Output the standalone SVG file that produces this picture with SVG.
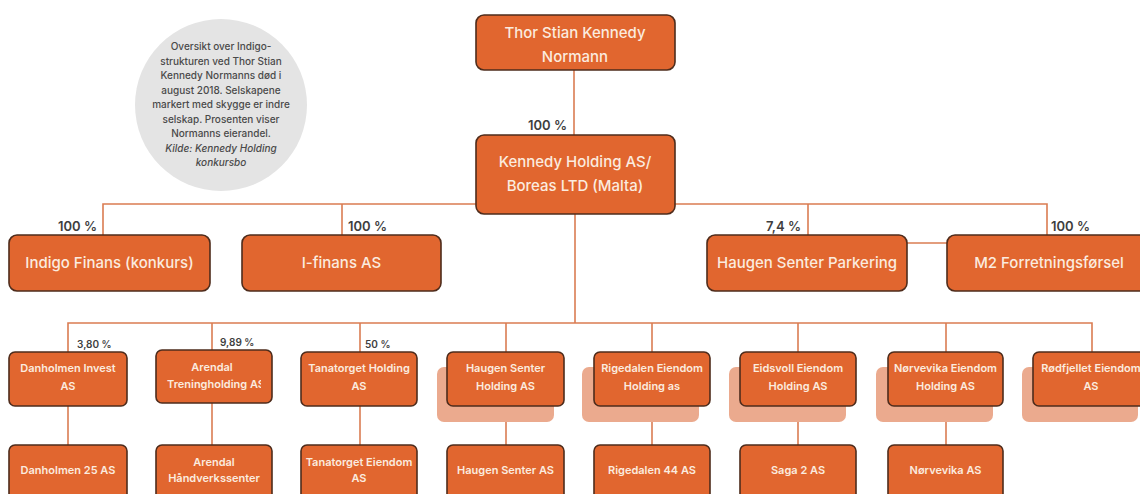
<svg xmlns="http://www.w3.org/2000/svg" width="1140" height="494" viewBox="0 0 1140 494">
<style>
.bx{fill:#E1662F;stroke:#4E2C1C;stroke-width:1.6}
.sh{fill:#EBAA8E}
.ln{stroke:#DA7C52;stroke-width:1.6;fill:none}
.t{font-family:Inter,"Liberation Sans",sans-serif;fill:#FBEBDF;text-anchor:middle}
.tl{font-size:15px;font-weight:500}
.ts{font-size:11px;font-weight:600}
.p{font-family:Inter,"Liberation Sans",sans-serif;fill:#3E3E3E;font-weight:600}
.pl{font-size:13px}
.ps{font-size:10px}
.c{font-family:Inter,"Liberation Sans",sans-serif;fill:#4A4A4A;font-size:10px;font-weight:500;text-anchor:middle}
</style>
<defs>
<clipPath id="clipAr"><rect x="156" y="350" width="105" height="53"/></clipPath>
</defs>
<rect width="1140" height="494" fill="#FFFFFF"/>

<g id="note">
<circle cx="221" cy="105" r="86" fill="#E4E4E4"/>
<text class="c" x="221" y="50">Oversikt over Indigo-</text>
<text class="c" x="221" y="64.5">strukturen ved Thor Stian</text>
<text class="c" x="221" y="79">Kennedy Normanns død i</text>
<text class="c" x="221" y="93.5">august 2018. Selskapene</text>
<text class="c" x="221" y="108">markert med skygge er indre</text>
<text class="c" x="221" y="122.5">selskap. Prosenten viser</text>
<text class="c" x="221" y="137">Normanns eierandel.</text>
<text class="c" x="221" y="151.5" font-style="italic">Kilde: Kennedy Holding</text>
<text class="c" x="221" y="166" font-style="italic">konkursbo</text>
</g>

<g id="connectors">
<line class="ln" x1="574" y1="70" x2="574" y2="135"/>
<polyline class="ln" points="103,235 103,204 1047,204 1047,235"/>
<line class="ln" x1="342" y1="204" x2="342" y2="235"/>
<line class="ln" x1="808" y1="204" x2="808" y2="235"/>
<line class="ln" x1="907" y1="243" x2="947" y2="243"/>
<line class="ln" x1="575" y1="214" x2="575" y2="323"/>
<polyline class="ln" points="68,352 68,323 1092,323 1092,352"/>
<line class="ln" x1="212" y1="323" x2="212" y2="350"/>
<line class="ln" x1="360" y1="323" x2="360" y2="352"/>
<line class="ln" x1="506" y1="323" x2="506" y2="352"/>
<line class="ln" x1="652" y1="323" x2="652" y2="352"/>
<line class="ln" x1="798" y1="323" x2="798" y2="352"/>
<line class="ln" x1="946" y1="323" x2="946" y2="352"/>
<line class="ln" x1="68" y1="406" x2="68" y2="445"/>
<line class="ln" x1="212" y1="403" x2="212" y2="445"/>
<line class="ln" x1="360" y1="406" x2="360" y2="445"/>
<line class="ln" x1="506" y1="422" x2="506" y2="445"/>
<line class="ln" x1="652" y1="422" x2="652" y2="445"/>
<line class="ln" x1="798" y1="422" x2="798" y2="445"/>
<line class="ln" x1="946" y1="422" x2="946" y2="445"/>
</g>

<g id="labels">
<text class="p pl" x="567" y="130" text-anchor="end">100 %</text>
<text class="p pl" x="97" y="231" text-anchor="end">100 %</text>
<text class="p pl" x="348" y="231">100 %</text>
<text class="p pl" x="801" y="231" text-anchor="end">7,4 %</text>
<text class="p pl" x="1051" y="231">100 %</text>
<text class="p ps" x="77" y="348">3,80 %</text>
<text class="p ps" x="220" y="346">9,89 %</text>
<text class="p ps" x="365" y="348">50 %</text>
</g>

<g id="n-thor">
<rect class="bx" x="476" y="15" width="199" height="55" rx="8"/>
<text class="t tl" x="575" y="38">Thor Stian Kennedy</text>
<text class="t tl" x="575" y="62">Normann</text>
</g>
<g id="n-kennedy">
<rect class="bx" x="476" y="135" width="199" height="79" rx="8"/>
<text class="t tl" x="575" y="167">Kennedy Holding AS/</text>
<text class="t tl" x="575" y="191">Boreas LTD (Malta)</text>
</g>

<g id="n-indigo">
<rect class="bx" x="9" y="235" width="201" height="56" rx="8"/>
<text class="t tl" x="109.5" y="268">Indigo Finans (konkurs)</text>
</g>
<g id="n-ifinans">
<rect class="bx" x="242" y="235" width="199" height="56" rx="8"/>
<text class="t tl" x="341.5" y="268">I-finans AS</text>
</g>
<g id="n-hsp">
<rect class="bx" x="707" y="235" width="200" height="56" rx="8"/>
<text class="t tl" x="807" y="268">Haugen Senter Parkering</text>
</g>
<g id="n-m2">
<rect class="bx" x="947" y="235" width="204" height="56" rx="8"/>
<text class="t tl" x="1049" y="268">M2 Forretningsførsel</text>
</g>

<g id="n-danholmen-invest">
<rect class="bx" x="9" y="352" width="118" height="54" rx="6"/>
<text class="t ts" x="68" y="372">Danholmen Invest</text>
<text class="t ts" x="68" y="390">AS</text>
</g>
<g id="n-arendal-tren">
<rect class="bx" x="156" y="350" width="116" height="53" rx="6"/>
<text class="t ts" x="212" y="371">Arendal</text>
<g clip-path="url(#clipAr)">
<text class="t ts" x="167" y="388" style="text-anchor:start">Treningholding AS</text>
</g>
</g>
<g id="n-tanatorget-holding">
<rect class="bx" x="301" y="352" width="116" height="54" rx="6"/>
<text class="t ts" x="359" y="372">Tanatorget Holding</text>
<text class="t ts" x="359" y="390">AS</text>
</g>
<g id="n-haugen-holding">
<rect class="sh" x="437" y="367" width="117" height="55" rx="7"/>
<rect class="bx" x="447" y="352" width="117" height="54" rx="6"/>
<text class="t ts" x="505.5" y="372">Haugen Senter</text>
<text class="t ts" x="505.5" y="390">Holding AS</text>
</g>
<g id="n-rigedalen-holding">
<rect class="sh" x="582" y="367" width="117" height="55" rx="7"/>
<rect class="bx" x="594" y="352" width="116" height="54" rx="6"/>
<text class="t ts" x="652" y="372">Rigedalen Eiendom</text>
<text class="t ts" x="652" y="390">Holding as</text>
</g>
<g id="n-eidsvoll-holding">
<rect class="sh" x="729" y="367" width="117" height="55" rx="7"/>
<rect class="bx" x="740" y="352" width="116" height="54" rx="6"/>
<text class="t ts" x="798" y="372">Eidsvoll Eiendom</text>
<text class="t ts" x="798" y="390">Holding AS</text>
</g>
<g id="n-norvevika-holding">
<rect class="sh" x="876" y="367" width="117" height="55" rx="7"/>
<rect class="bx" x="888" y="352" width="115" height="54" rx="6"/>
<text class="t ts" x="945.5" y="372">Nørvevika Eiendom</text>
<text class="t ts" x="945.5" y="390">Holding AS</text>
</g>
<g id="n-rodfjellet">
<rect class="sh" x="1022" y="367" width="116" height="55" rx="7"/>
<rect class="bx" x="1033" y="352" width="118" height="54" rx="6"/>
<text class="t ts" x="1091" y="372">Rødfjellet Eiendom</text>
<text class="t ts" x="1091" y="390">AS</text>
</g>

<g id="n-danholmen25">
<rect class="bx" x="9" y="445" width="118" height="55" rx="6"/>
<text class="t ts" x="68" y="474">Danholmen 25 AS</text>
</g>
<g id="n-arendal-hv">
<rect class="bx" x="156" y="445" width="116" height="55" rx="6"/>
<text class="t ts" x="214" y="466">Arendal</text>
<text class="t ts" x="214" y="482">Håndverkssenter</text>
</g>
<g id="n-tanatorget-eiendom">
<rect class="bx" x="301" y="445" width="116" height="55" rx="6"/>
<text class="t ts" x="359" y="466">Tanatorget Eiendom</text>
<text class="t ts" x="359" y="482">AS</text>
</g>
<g id="n-haugen-senter">
<rect class="bx" x="447" y="445" width="117" height="55" rx="6"/>
<text class="t ts" x="505.5" y="474">Haugen Senter AS</text>
</g>
<g id="n-rigedalen44">
<rect class="bx" x="594" y="445" width="116" height="55" rx="6"/>
<text class="t ts" x="652" y="474">Rigedalen 44 AS</text>
</g>
<g id="n-saga2">
<rect class="bx" x="740" y="445" width="116" height="55" rx="6"/>
<text class="t ts" x="798" y="474">Saga 2 AS</text>
</g>
<g id="n-norvevika">
<rect class="bx" x="888" y="445" width="115" height="55" rx="6"/>
<text class="t ts" x="945.5" y="474">Nørvevika AS</text>
</g>
</svg>
